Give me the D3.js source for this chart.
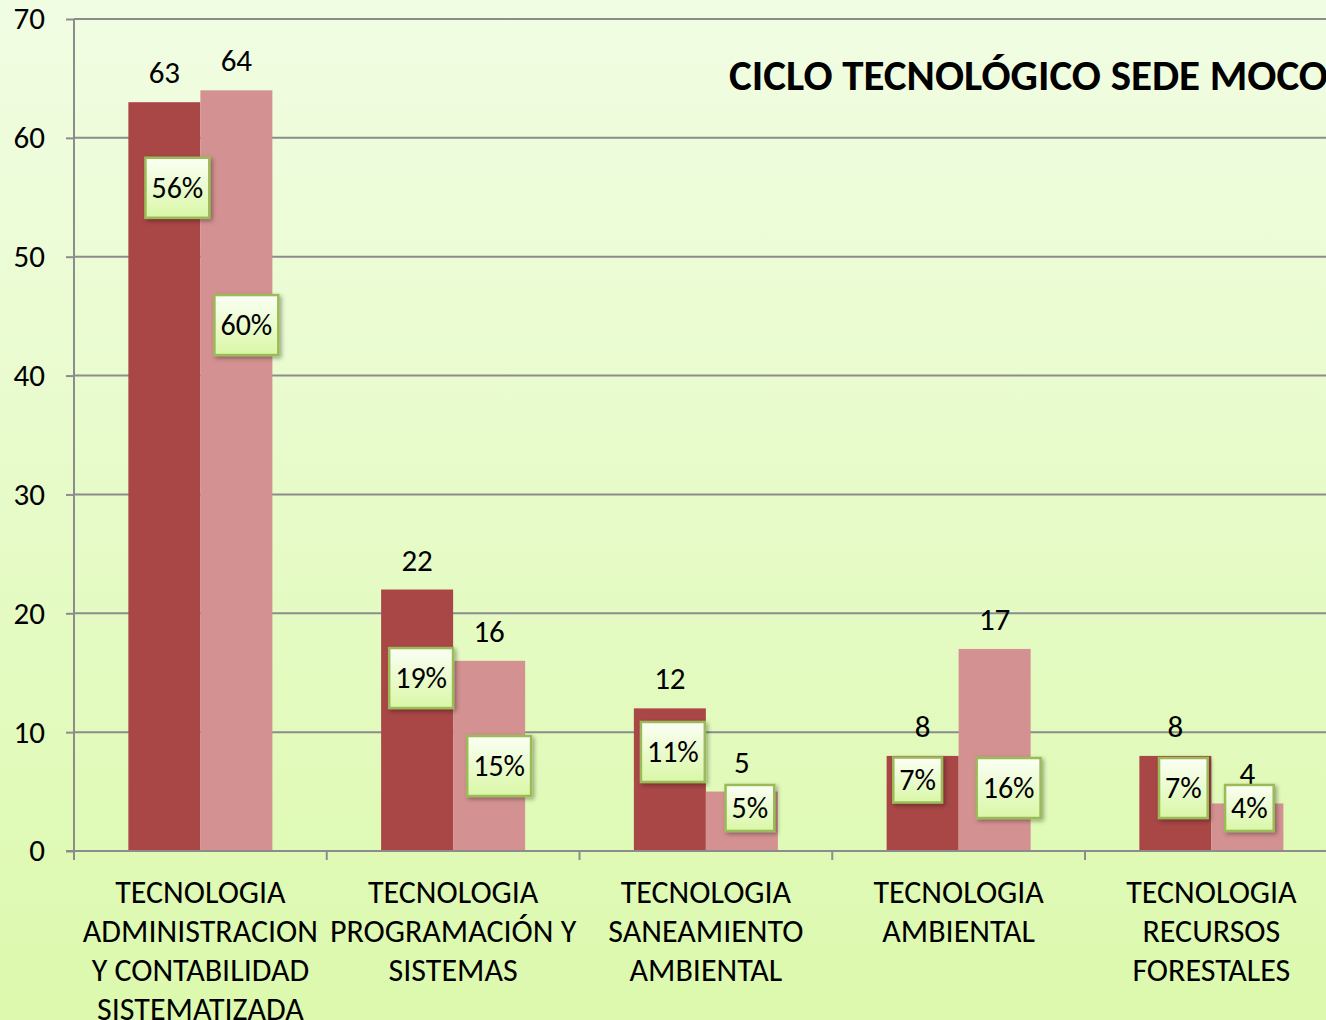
<!DOCTYPE html>
<html>
<head>
<meta charset="utf-8">
<title>Ciclo tecnológico sede Mocoa</title>
<script src="https://d3js.org/d3.v7.min.js"></script>
<style>
  body { margin: 0; background: #fff; }
  svg text { font-family: Carlito, Calibri, Lato, sans-serif; fill: #000; }
</style>
</head>
<body>
<div id="chart"></div>
<script>
// data
var categories = [
  ["TECNOLOGIA", "ADMINISTRACION", "Y CONTABILIDAD", "SISTEMATIZADA"],
  ["TECNOLOGIA", "PROGRAMACIÓN Y", "SISTEMAS"],
  ["TECNOLOGIA", "SANEAMIENTO", "AMBIENTAL"],
  ["TECNOLOGIA", "AMBIENTAL"],
  ["TECNOLOGIA", "RECURSOS", "FORESTALES"]
];
var seriesA = [63, 22, 12, 8, 8];
var seriesB = [64, 16, 5, 17, 4];
var pctA = ["56%", "19%", "11%", "7%", "7%"];
var pctB = ["60%", "15%", "5%", "16%", "4%"];
var yTicks = [0, 10, 20, 30, 40, 50, 60, 70];
var title = "CICLO TECNOLÓGICO SEDE MOCOA";

// where the percent boxes were dragged to (value units, pixel shift, box height)
var pctAtA = [55.8, 14.55, 8.33, 5.97, 5.3];
var pctAtB = [44.25, 7.15, 3.62, 5.3, 3.62];
var pctDxA = [13, 4, 3, -5, 8];
var pctDxB = [10, 10, 8, 14, 2];
var boxHA = [60, 60, 60, 45, 60];
var boxHB = [60, 60, 46, 60, 46];

var W = 1326, H = 1020;
var x0 = 74, step = 252.75;

var svg = d3.select("#chart").append("svg")
    .attr("width", W).attr("height", H);

var defs = svg.append("defs");
var bg = defs.append("linearGradient").attr("id", "bg")
    .attr("x1", 0).attr("y1", 0).attr("x2", 0).attr("y2", 1);
bg.append("stop").attr("offset", "0%").attr("stop-color", "#f1fde3");
bg.append("stop").attr("offset", "100%").attr("stop-color", "#dcf9ad");

var boxGrad = defs.append("linearGradient").attr("id", "boxg")
    .attr("x1", 0).attr("y1", 0).attr("x2", 0).attr("y2", 1);
boxGrad.append("stop").attr("offset", "0%").attr("stop-color", "#fbfff5");
boxGrad.append("stop").attr("offset", "100%").attr("stop-color", "#d9f7a6");

var shadow = defs.append("filter").attr("id", "shadow")
    .attr("x", "-20%").attr("y", "-20%").attr("width", "150%").attr("height", "150%");
shadow.append("feDropShadow").attr("dx", 2).attr("dy", 2).attr("stdDeviation", 2)
    .attr("flood-color", "#000").attr("flood-opacity", 0.35);

svg.append("rect").attr("width", W).attr("height", H).attr("fill", "url(#bg)");

// scales
var x = d3.scaleBand()
    .domain(d3.range(categories.length))
    .range([x0, x0 + step * categories.length])
    .padding(0);

var xs = d3.scaleBand()
    .domain(["A", "B"])
    .range([0, x.bandwidth()])
    .paddingInner(0)
    .paddingOuter(0.755);

var y = d3.scaleLinear().domain([0, 70]).range([851, 19]);

// gridlines
svg.append("g")
    .selectAll("line")
    .data(yTicks.filter(function(d) { return d > 0; }))
    .join("line")
    .attr("x1", x0).attr("x2", W)
    .attr("y1", function(d) { return y(d); })
    .attr("y2", function(d) { return y(d); })
    .attr("stroke", "#8c8c8c").attr("stroke-width", 2);

// title (runs off the right edge like the original)
svg.append("text")
    .attr("x", 729).attr("y", 90)
    .attr("font-size", 43).attr("font-weight", "bold")
    .text(title);

// bars
var groups = svg.append("g").selectAll("g")
    .data(categories)
    .join("g")
    .attr("transform", function(d, i) { return "translate(" + x(i) + ",0)"; });

groups.append("rect")
    .attr("x", xs("A")).attr("width", xs.bandwidth())
    .attr("y", function(d, i) { return y(seriesA[i]); })
    .attr("height", function(d, i) { return y(0) - y(seriesA[i]); })
    .attr("fill", "#a94646");

groups.append("rect")
    .attr("x", xs("B")).attr("width", xs.bandwidth())
    .attr("y", function(d, i) { return y(seriesB[i]); })
    .attr("height", function(d, i) { return y(0) - y(seriesB[i]); })
    .attr("fill", "#d39191");

// value labels
groups.append("text")
    .attr("x", xs("A") + xs.bandwidth() / 2)
    .attr("y", function(d, i) { return y(seriesA[i]) - 19; })
    .attr("text-anchor", "middle").attr("font-size", 31)
    .text(function(d, i) { return seriesA[i]; });

groups.append("text")
    .attr("x", xs("B") + xs.bandwidth() / 2)
    .attr("y", function(d, i) { return y(seriesB[i]) - 19; })
    .attr("text-anchor", "middle").attr("font-size", 31)
    .text(function(d, i) { return seriesB[i]; });

// axes
var yAxis = svg.append("g")
    .attr("transform", "translate(" + x0 + ",0)")
    .call(d3.axisLeft(y).tickValues(yTicks).tickSize(8).tickPadding(21));
yAxis.selectAll("text").attr("font-size", 31);
yAxis.select(".domain").remove();
yAxis.append("line").attr("y1", y(0)).attr("y2", y(70));

var xAxis = svg.append("g")
    .attr("transform", "translate(0," + y(0) + ")")
    .call(d3.axisBottom(x).tickSize(0).tickFormat(""));
xAxis.selectAll(".tick").remove();
xAxis.select(".domain").attr("d", "M" + (x0 - 8) + ",0H" + W);

svg.selectAll(".domain, .tick line, g line")
    .attr("stroke", "#8c8c8c").attr("stroke-width", 2);

// category separators
svg.append("g").selectAll("line")
    .data(d3.range(categories.length))
    .join("line")
    .attr("x1", function(d) { return x(d); })
    .attr("x2", function(d) { return x(d); })
    .attr("y1", y(0)).attr("y2", y(0) + 9)
    .attr("stroke", "#8c8c8c").attr("stroke-width", 2);

// category labels
groups.append("text")
    .attr("text-anchor", "middle")
    .attr("font-size", 32)
    .attr("y", 903)
    .selectAll("tspan")
    .data(function(d) { return d; })
    .join("tspan")
    .attr("x", x.bandwidth() / 2)
    .attr("dy", function(d, i) { return i === 0 ? 0 : 39; })
    .text(function(d) { return d; });

// percent boxes
function pctBox(g, cx, cy, h, label) {
    var t = g.append("text")
        .attr("x", cx).attr("y", cy + 10)
        .attr("text-anchor", "middle").attr("font-size", 30)
        .text(label);
    var w = t.node().getComputedTextLength() + 12;
    g.insert("rect", "text")
        .attr("x", cx - w / 2).attr("y", cy - h / 2)
        .attr("width", w).attr("height", h)
        .attr("fill", "url(#boxg)")
        .attr("stroke", "#9bbb59").attr("stroke-width", 2.5)
        .attr("filter", "url(#shadow)");
}

groups.each(function(d, i) {
    var g = d3.select(this);
    pctBox(g.append("g"), xs("A") + xs.bandwidth() / 2 + pctDxA[i], y(pctAtA[i]), boxHA[i], pctA[i]);
    pctBox(g.append("g"), xs("B") + xs.bandwidth() / 2 + pctDxB[i], y(pctAtB[i]), boxHB[i], pctB[i]);
});
</script>
</body>
</html>
